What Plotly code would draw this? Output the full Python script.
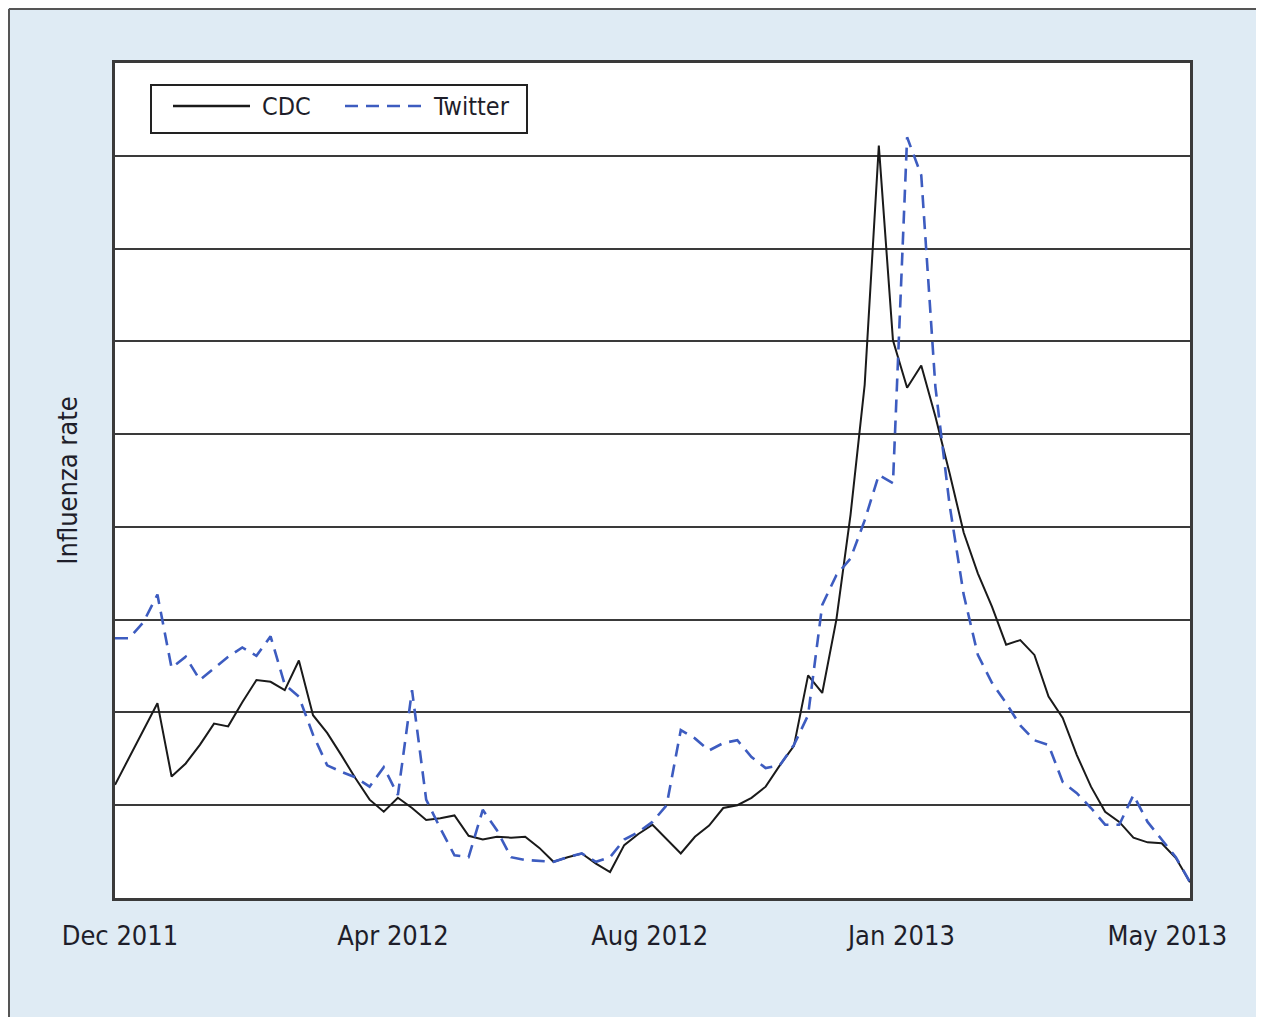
import plotly.graph_objects as go

# ---- data (weekly index, Dec 2011 - May 2013) ----
weeks = list(range(77))

cdc = [1.22, 1.51, 1.81, 2.10, 1.31, 1.45, 1.65, 1.88, 1.85, 2.11,
       2.35, 2.33, 2.24, 2.56, 1.97, 1.78, 1.54, 1.29, 1.06, 0.93,
       1.08, 0.97, 0.84, 0.86, 0.89, 0.67, 0.63, 0.66, 0.65, 0.66,
       0.54, 0.39, 0.44, 0.48, 0.37, 0.28, 0.57, 0.69, 0.79, 0.63,
       0.48, 0.66, 0.78, 0.97, 1.00, 1.08, 1.20, 1.43, 1.64, 2.40,
       2.21, 3.00, 4.13, 5.53, 8.11, 6.01, 5.50, 5.74, 5.19, 4.58,
       3.94, 3.50, 3.14, 2.73, 2.78, 2.62, 2.17, 1.94, 1.54, 1.20,
       0.93, 0.82, 0.65, 0.60, 0.59, 0.43, 0.17]

twitter = [2.80, 2.80, 2.97, 3.27, 2.48, 2.60, 2.35, 2.48, 2.60, 2.70,
           2.61, 2.82, 2.30, 2.17, 1.76, 1.43, 1.36, 1.30, 1.20, 1.41,
           1.11, 2.24, 1.06, 0.75, 0.46, 0.44, 0.95, 0.73, 0.44, 0.41,
           0.40, 0.39, 0.44, 0.48, 0.39, 0.44, 0.63, 0.71, 0.82, 1.00,
           1.81, 1.72, 1.59, 1.67, 1.70, 1.52, 1.40, 1.43, 1.65, 1.97,
           3.16, 3.48, 3.66, 4.07, 4.56, 4.47, 8.20, 7.79, 5.51, 4.24,
           3.27, 2.62, 2.32, 2.10, 1.86, 1.70, 1.65, 1.25, 1.13, 0.97,
           0.79, 0.79, 1.11, 0.82, 0.63, 0.44, 0.17]

tick_labels = ["Dec 2011", "Apr 2012", "Aug 2012", "Jan 2013", "May 2013"]
tick_weeks = [0.35, 19.65, 37.8, 55.6, 74.4]

series_names = ["CDC", "Twitter"]

FONT = "Liberation Sans Narrow, Arial Narrow, DejaVu Sans Condensed, sans-serif"
BLUE = "#3d5cc0"
TEXT = "#1e1e2a"

fig = go.Figure()
fig.add_trace(go.Scatter(x=weeks, y=cdc, mode="lines", name=series_names[0],
                         line=dict(color="#1a1a1a", width=2)))
fig.add_trace(go.Scatter(x=weeks, y=twitter, mode="lines", name=series_names[1],
                         line=dict(color=BLUE, width=2.6, dash="13px,8px")))

# page has an 8px body margin: figure origin sits at page (8, 8)
OFF = 8
W, H = 1264 - OFF, 1017 - OFF
L, R, T, B = 115 - OFF, 1190 - OFF, 63 - OFF, 898 - OFF


def px(xp):  # page x -> paper
    return (xp - OFF - L) / (R - L)


def py(yp):  # page y -> paper
    return (B - (yp - OFF)) / (B - T)


shapes = [
    # outer frame (left and top)
    dict(type="line", xref="paper", yref="paper", x0=px(9), x1=px(9), y0=py(9), y1=py(1040),
         line=dict(color="#555555", width=2)),
    dict(type="line", xref="paper", yref="paper", x0=px(9), x1=px(1290), y0=py(9), y1=py(9),
         line=dict(color="#555555", width=2)),
    # legend box
    dict(type="rect", xref="paper", yref="paper", x0=px(151), x1=px(527), y0=py(133), y1=py(85),
         line=dict(color="#222222", width=2), fillcolor="white", layer="above"),
    dict(type="line", xref="paper", yref="paper", x0=px(173), x1=px(250), y0=py(106), y1=py(106),
         line=dict(color="#1a1a1a", width=2.5), layer="above"),
    dict(type="line", xref="paper", yref="paper", x0=px(345), x1=px(425), y0=py(106), y1=py(106),
         line=dict(color=BLUE, width=2.6, dash="13px,8px"), layer="above"),
]

annotations = [
    dict(text=series_names[0], xref="paper", yref="paper", x=px(260), y=py(107),
         xanchor="left", yanchor="middle", showarrow=False,
         font=dict(family=FONT, size=25, color=TEXT)),
    dict(text=series_names[1], xref="paper", yref="paper", x=px(431), y=py(107),
         xanchor="left", yanchor="middle", showarrow=False,
         font=dict(family=FONT, size=25, color=TEXT)),
]

fig.update_layout(
    width=W, height=H,
    margin=dict(l=L, r=W - R, t=T, b=H - B, pad=0),
    paper_bgcolor="#dfebf4",
    plot_bgcolor="white",
    showlegend=False,
    shapes=shapes,
    annotations=annotations,
    font=dict(family=FONT, color=TEXT),
)

fig.update_xaxes(
    range=[0, 76],
    tickvals=tick_weeks, ticktext=tick_labels,
    ticks="outside", ticklen=12, tickcolor="rgba(0,0,0,0)",
    tickfont=dict(family=FONT, size=27, color=TEXT),
    showgrid=False, zeroline=False,
    showline=True, mirror=True, linecolor="#3a3a3a", linewidth=2.5,
)

fig.update_yaxes(
    range=[0, 9], dtick=1, tick0=0,
    showticklabels=False, ticks="",
    showgrid=True, gridcolor="#3a3a3a", gridwidth=1.6,
    zeroline=False,
    showline=True, mirror=True, linecolor="#3a3a3a", linewidth=2.5,
    title=dict(text="Influenza rate", standoff=27,
               font=dict(family=FONT, size=27, color=TEXT)),
)

fig.write_html("out.html")
